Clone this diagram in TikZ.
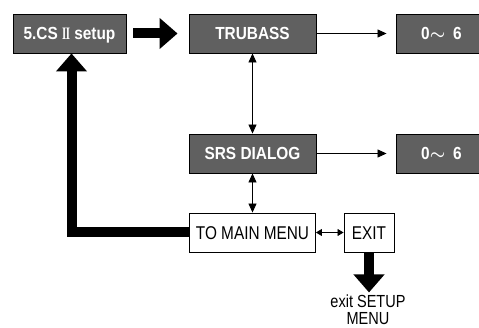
\documentclass[tikz,border=0pt]{standalone}
\usepackage{amsmath}
\usepackage{graphicx}
\usepackage{fontspec}
\usetikzlibrary{arrows.meta}
\newfontfamily\boldfont[FakeStretch=0.88]{Liberation Sans Bold}
\newfontfamily\regfont[FakeStretch=0.83]{Liberation Sans}
\newfontfamily\romfont{Liberation Serif Bold}
\newcommand{\romtwo}{\scalebox{0.62}[1]{\romfont\fontsize{17.5}{19}\selectfont I\kern-0.8pt I}}
\definecolor{boxgray}{RGB}{96,96,96}
\tikzset{
  gbox/.style={draw=black, line width=0.9pt, fill=boxgray, text=white,
    font=\boldfont\fontsize{17.5}{19}\selectfont, inner sep=0pt,
    minimum height=39pt, text height=12.5pt, text depth=0pt},
  wbox/.style={draw=black, line width=0.9pt, fill=white, text=black,
    font=\regfont\fontsize{18.5}{19}\selectfont, inner sep=0pt,
    minimum height=39pt, text height=13.2pt, text depth=0pt},
  thickarr/.style={line width=10pt, line join=miter,
    -{Triangle[length=18pt,width=30pt]}},
  thinarr/.style={line width=0.8pt, -{Triangle[length=9pt,width=8pt]}},
  dblarr/.style={line width=0.8pt, {Triangle[length=9pt,width=8pt]}-{Triangle[length=9pt,width=8pt]}},
  smallarr/.style={line width=0.8pt, {Triangle[length=6pt,width=7pt]}-{Triangle[length=6pt,width=7pt]}},
}
\begin{document}
\begin{tikzpicture}[x=1pt,y=-1pt]
\useasboundingbox (0,0) rectangle (479,328);
\node[gbox, minimum width=113pt] (cs) at (69.5,33.5) {5.CS \romtwo\ setup};
\node[gbox, minimum width=127pt] (tb) at (252.5,33.5) {TRUBASS};
\node[gbox, minimum width=91pt] (v1) at (441.5,33.5) {0$\boldsymbol{\sim}$\hspace{8pt}6};
\node[gbox, minimum width=127pt] (srs) at (252.5,153.5) {SRS DIALOG};
\node[gbox, minimum width=91pt] (v2) at (441.5,153.5) {0$\boldsymbol{\sim}$\hspace{8pt}6};
\node[wbox, minimum width=126pt] (menu) at (252.5,232.5) {TO MAIN MENU};
\node[wbox, minimum width=50pt] (exit) at (369,232.5) {EXIT};
\coordinate (exitend) at ([yshift=-40pt]exit.south);
\node[font=\regfont\fontsize{17.5}{17}\selectfont, align=center, inner sep=0pt, anchor=north] (exittxt) at (368,294.5) {exit SETUP\\MENU};

\draw[thickarr] ([xshift=7pt]cs.east) -- ([xshift=-11pt]tb.west);
\draw[thickarr] (menu.west) -| ([xshift=2pt]cs.south);
\draw[thickarr] (exit.south) -- (exitend);
\draw[thinarr] (tb.east) -- ([xshift=-9pt]v1.west);
\draw[thinarr] (srs.east) -- ([xshift=-9pt]v2.west);
\draw[dblarr] (tb.south) -- (srs.north);
\draw[dblarr] (srs.south) -- (menu.north);
\draw[smallarr] (menu.east) -- (exit.west);
\end{tikzpicture}
\end{document}
